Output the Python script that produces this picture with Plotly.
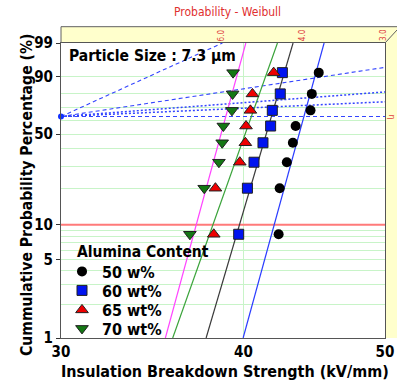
import numpy as np
import plotly.graph_objects as go

# ---------------- data ----------------
series_names = ["50 w%", "60 wt%", "65 wt%", "70 wt%"]
cum_prob_pct = [8.3, 20.2, 32.1, 44.0, 56.0, 67.9, 79.8, 91.7]
strength_50 = [42.28, 42.35, 42.83, 43.24, 43.43, 44.46, 44.55, 45.04]
strength_60 = [39.70, 40.25, 40.67, 41.25, 41.75, 41.86, 42.39, 42.53]
strength_65 = [38.17, 38.27, 39.77, 40.12, 40.16, 40.44, 40.57, 41.95]
strength_70 = [36.76, 37.60, 38.48, 38.68, 38.75, 39.28, 39.32, 39.35]
fit_eta = [44.0, 41.8, 40.5, 38.9]
fit_beta = [48.0, 44.7, 37.1, 48.3]
guide_beta = [6.0, 2.0, 1.0, 0.6, 0.0]
top_beta_labels = [6.0, 4.0, 3.0]
y_tick_pct = [1, 5, 10, 50, 90, 99]
y_grid_pct = [2, 3, 4, 6, 7, 8, 9, 20, 30, 40, 60, 70, 80]
x_tick_vals = [30, 40, 50]
ref_line_pct = 10

FONT = "DejaVu Sans Condensed, DejaVu Sans, sans-serif"
W, H = 397, 383
L, R, T, B = 61, 12, 43, 45
PW, PH = W - L - R, H - T - B


def px_x(px):
    return (px - L) / PW


def px_y(py):
    return (H - B - py) / PH


def weib(p):
    p = np.asarray(p, dtype=float) / 100.0
    return np.log(-np.log(1.0 - p))


x_min, x_max = 30.0, 50.0
y_min, y_max = float(weib(1)), float(weib(99))

fig = go.Figure()

# guide (beta scale) lines from the pivot (30, 63.2%)
guide_dash = ["4px,3px", "4px,3px", "2px,2px", "2px,2px", "4px,3px"]
guide_width = [1.1, 1.1, 1.5, 1.5, 1.1]
for b, d, w in zip(guide_beta, guide_dash, guide_width):
    if b > 0:
        x_end = min(x_max, x_min * np.exp(y_max / b))
    else:
        x_end = x_max
    xs = np.array([x_min, x_end])
    ys = b * np.log(xs / x_min)
    fig.add_trace(go.Scatter(x=xs, y=ys, mode="lines", showlegend=False,
                             hoverinfo="skip", cliponaxis=False,
                             line=dict(color="#3344ff", width=w, dash=d)))

# 10 % reference line
fig.add_trace(go.Scatter(x=[x_min, x_max], y=[float(weib(ref_line_pct))] * 2,
                         mode="lines", showlegend=False, hoverinfo="skip",
                         line=dict(color="#ff7a7a", width=2)))

# fitted Weibull lines
line_colors = ["#2a3cff", "#3a3a3a", "#3aa33a", "#ff44ff"]
for eta, beta, c in zip(fit_eta, fit_beta, line_colors):
    ys = np.array([y_min, y_max])
    xs = eta * np.exp(ys / beta)
    fig.add_trace(go.Scatter(x=xs, y=ys, mode="lines", showlegend=False,
                             hoverinfo="skip", line=dict(color=c, width=1.2)))

# pivot dot
fig.add_trace(go.Scatter(x=[x_min], y=[0.0], mode="markers", showlegend=False,
                         cliponaxis=False, hoverinfo="skip",
                         marker=dict(color="#1030ff", size=6)))

# data points, each in its own legend box so the spacing can follow the reference
yv = weib(cum_prob_pct)
styles = [
    dict(symbol="circle", color="#000000", size=10, line=dict(color="#000000", width=0)),
    dict(symbol="square", color="#0014f0", size=10, line=dict(color="#202020", width=1)),
    dict(symbol="triangle-up", color="#ee0000", size=11, line=dict(color="#202020", width=1)),
    dict(symbol="triangle-down", color="#147814", size=11, line=dict(color="#202020", width=1)),
]
legend_ids = ["legend", "legend2", "legend3", "legend4"]
legend_rows_px = [271.5, 290.5, 310, 328.5]
for name, xs, st, lid in zip(series_names, [strength_50, strength_60, strength_65, strength_70],
                             styles, legend_ids):
    fig.add_trace(go.Scatter(x=xs, y=yv, mode="markers", name=name, marker=st,
                             legend=lid, showlegend=True))

legend_layout = {}
for lid, rowpx in zip(legend_ids, legend_rows_px):
    legend_layout[lid] = dict(x=px_x(62), xanchor="left", y=px_y(rowpx), yanchor="middle",
                              bgcolor="rgba(0,0,0,0)", borderwidth=0,
                              font=dict(family=FONT, size=16, color="#000000", weight="bold"))

# bands (top and right)
band_top = px_y(26.7)
band_right = (W - L) / PW
shapes = [
    dict(type="rect", xref="paper", yref="paper", x0=0, x1=band_right, y0=1, y1=band_top,
         fillcolor="#ffffcc", line=dict(width=0), layer="below"),
    dict(type="rect", xref="paper", yref="paper", x0=1, x1=band_right, y0=0, y1=band_top,
         fillcolor="#ffffcc", line=dict(width=0), layer="below"),
    dict(type="line", xref="paper", yref="paper", x0=0, x1=band_right, y0=band_top, y1=band_top,
         line=dict(color="#606060", width=1)),
    dict(type="line", xref="paper", yref="paper", x0=0, x1=0, y0=1, y1=band_top,
         line=dict(color="#606060", width=1)),
    dict(type="line", xref="paper", yref="paper", x0=1, x1=band_right, y0=1, y1=px_y(30),
         line=dict(color="#606060", width=1)),
]


def ann(text, x, y, size, color="#000000", weight="normal", xref="paper", yref="paper",
        xanchor="center", yanchor="middle", angle=0):
    return dict(text=text, x=x, y=y, xref=xref, yref=yref, xanchor=xanchor,
                yanchor=yanchor, textangle=angle, showarrow=False,
                font=dict(family=FONT, size=size, color=color, weight=weight))


annotations = []
for b in top_beta_labels:
    xv = min(x_max, x_min * np.exp(y_max / b))
    annotations.append(ann(f"{b:.1f}", float(np.log10(xv)), px_y(35), 8, "#e04040",
                           xref="x", angle=-90))
annotations.append(ann("η", px_x(392), 0.0, 9, "#e04040", yref="y", angle=90))
annotations.append(ann("Probability - Weibull", px_x(227), px_y(12), 12, "#e03030"))
annotations.append(ann("Particle Size : 7.3 µm", px_x(67), px_y(56), 15.5, weight="bold",
                       xanchor="left"))
annotations.append(ann("Alumina Content", px_x(75), px_y(251.5), 15.5, weight="bold",
                       xanchor="left"))
annotations.append(ann("Insulation Breakdown Strength (kV/mm)", px_x(225), px_y(371), 16,
                       weight="bold"))
annotations.append(ann("Cummulative Probability Percentage (%)", px_x(27), px_y(195), 15.6,
                       weight="bold", angle=-90))

fig.update_layout(
    width=W, height=H,
    margin=dict(l=L, r=R, t=T, b=B, autoexpand=False),
    paper_bgcolor="white", plot_bgcolor="white",
    font=dict(family=FONT, size=14, color="#000000"),
    showlegend=True,
    shapes=shapes,
    annotations=annotations,
    xaxis=dict(type="log", range=[np.log10(x_min), np.log10(x_max)],
               tickvals=x_tick_vals, ticktext=[str(v) for v in x_tick_vals],
               showgrid=True, gridcolor="#c8f4c8", gridwidth=1,
               showline=True, linecolor="#555555", linewidth=1, mirror=True,
               ticks="", zeroline=False, automargin=False,
               tickfont=dict(family=FONT, size=15, weight="bold")),
    yaxis=dict(range=[y_min, y_max],
               tickvals=[float(weib(p)) for p in y_tick_pct],
               ticktext=[str(p) for p in y_tick_pct],
               showgrid=True, gridcolor="#c8f4c8", gridwidth=1,
               minor=dict(tickvals=[float(weib(p)) for p in y_grid_pct], showgrid=True,
                          gridcolor="#c8f4c8", gridwidth=1, ticks=""),
               showline=True, linecolor="#555555", linewidth=1, mirror=True,
               ticks="outside", ticklen=4, tickcolor="#333333", zeroline=False,
               automargin=False,
               tickfont=dict(family=FONT, size=15, weight="bold")),
    **legend_layout,
)

fig.write_html("out.html", config={"displayModeBar": False},
               post_script="document.body.style.margin='0px';")
